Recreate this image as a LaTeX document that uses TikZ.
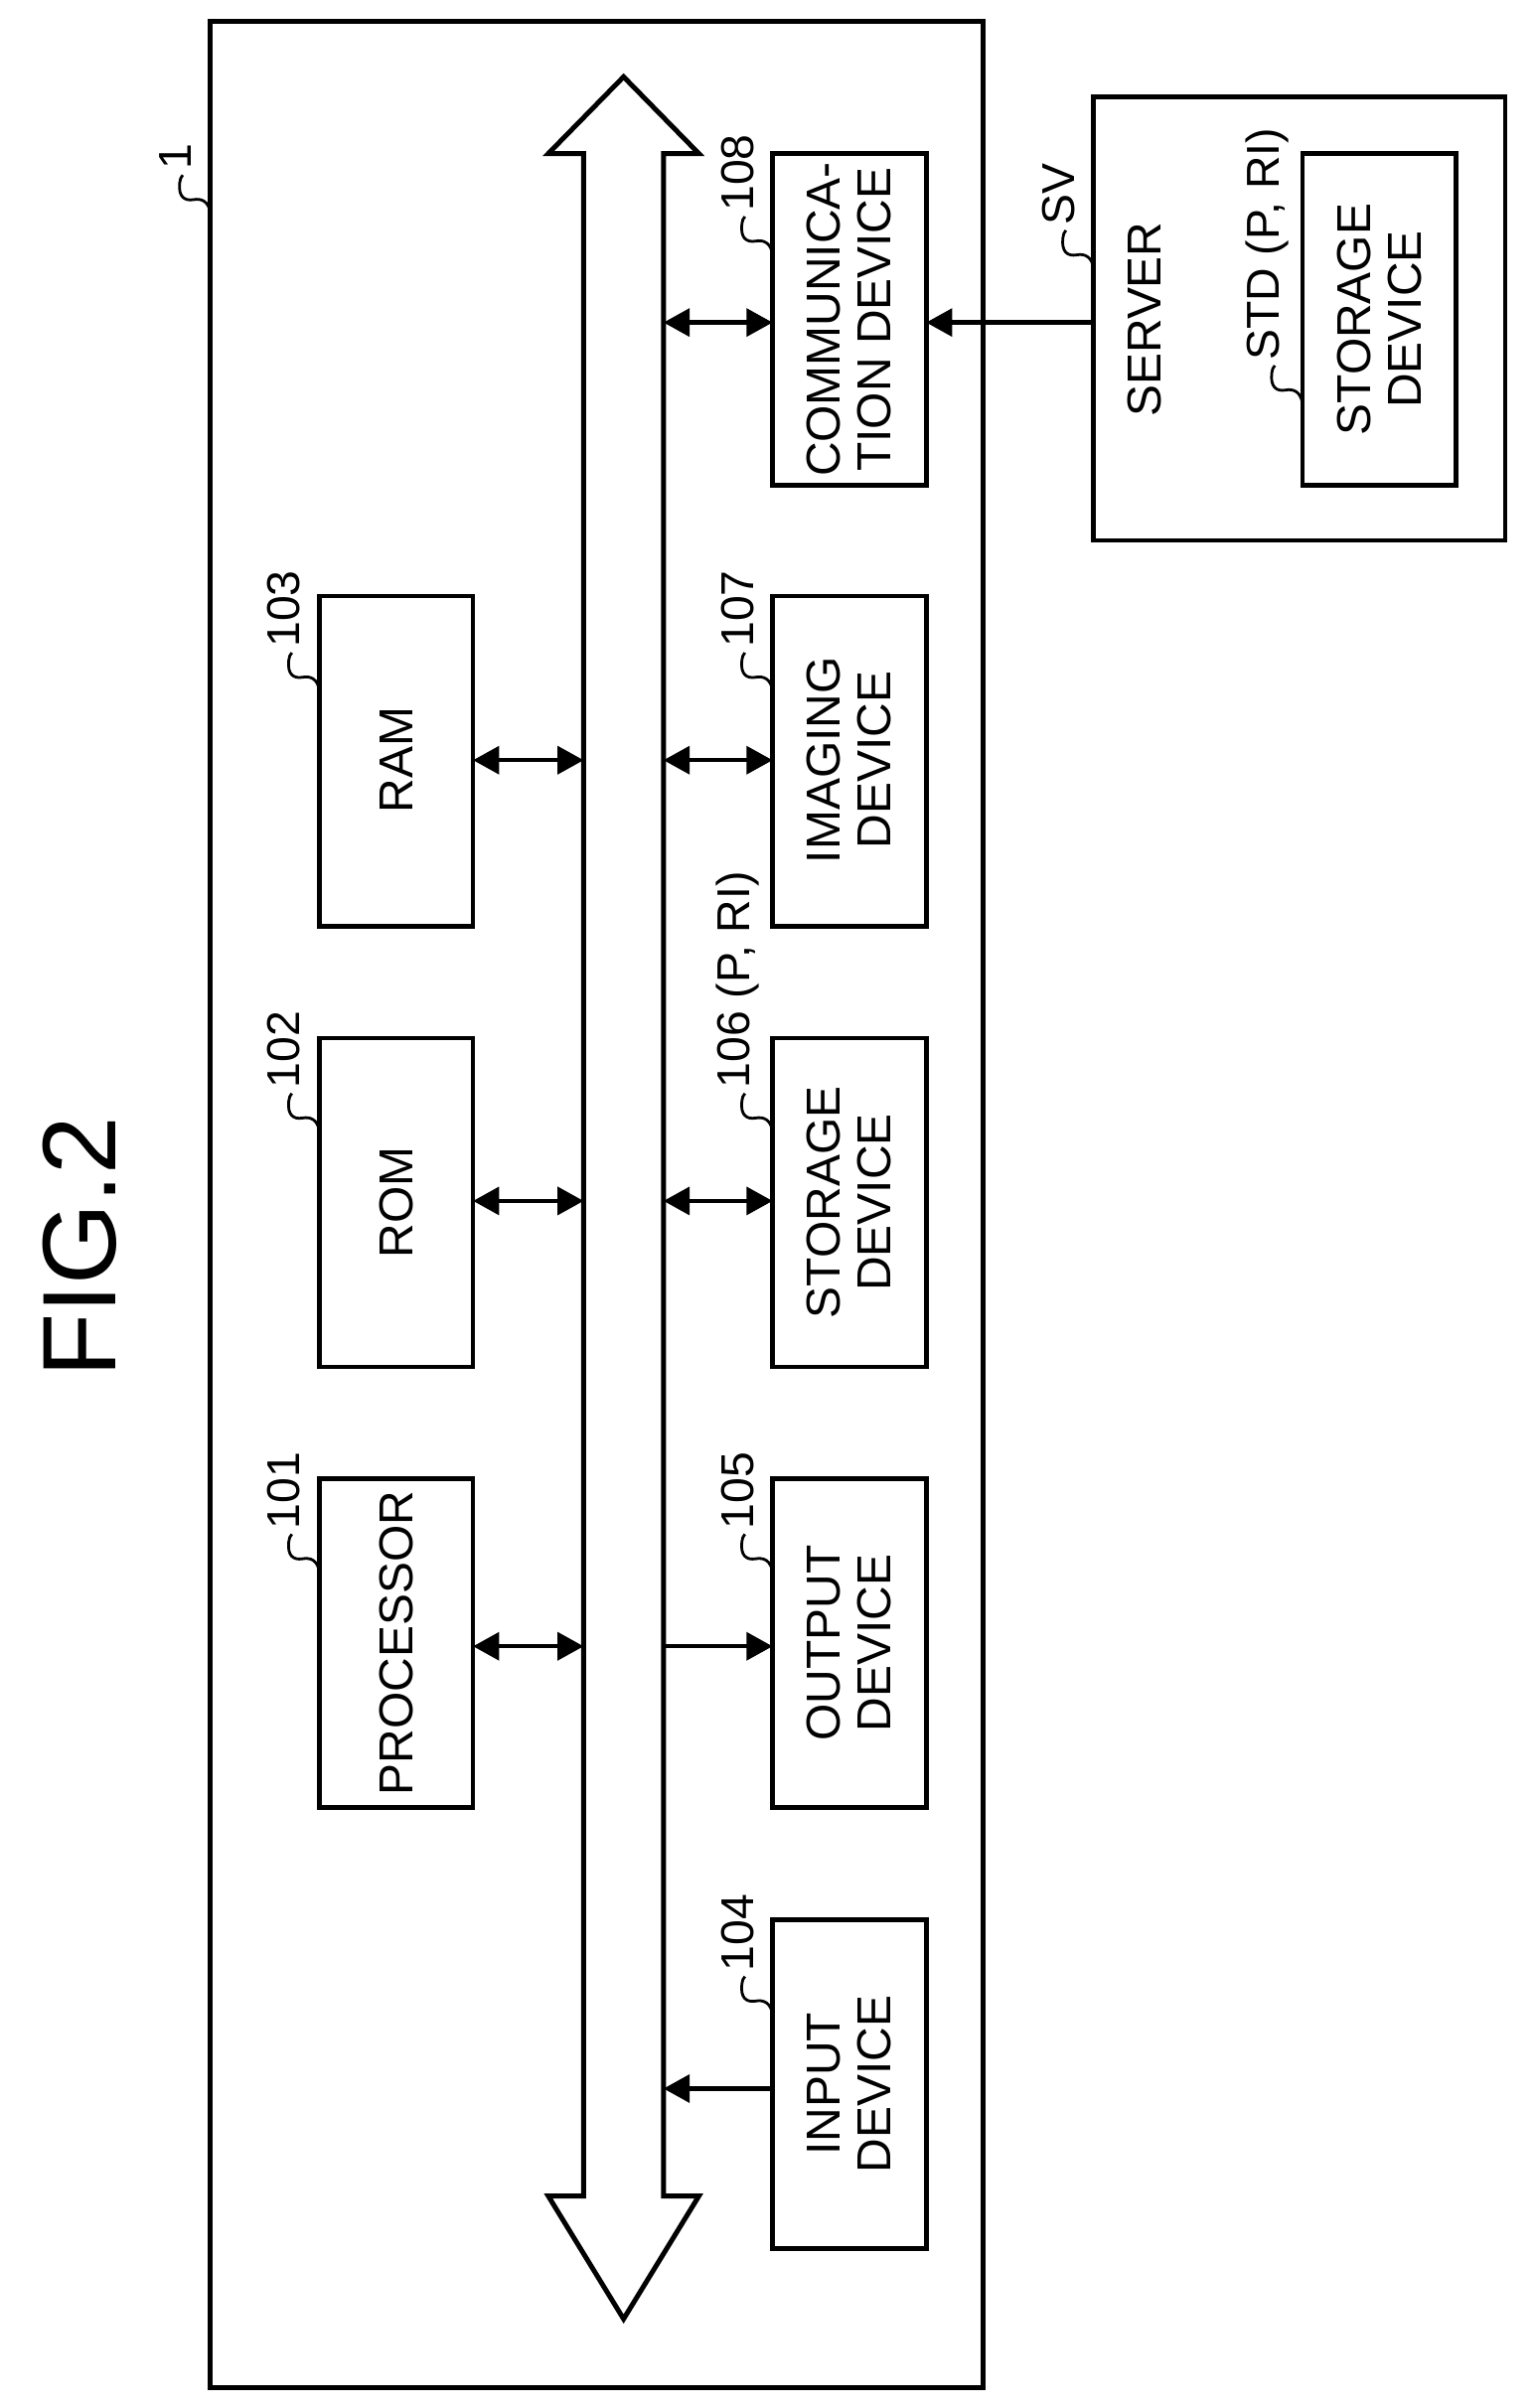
\documentclass[tikz,border=0pt]{standalone}
\usepackage{fontspec}
\setmainfont{Liberation Sans}
\usetikzlibrary{arrows.meta}
\begin{document}
\begin{tikzpicture}[x=0.5pt,y=-0.5pt,
  line width=1.4pt,
  box/.style={draw,line width=1.5pt,inner sep=0pt},
  txt/.style={rotate=90,font=\fontsize{15.5}{16.5}\selectfont,align=center},
  lab/.style={rotate=90,anchor=west,font=\fontsize{15}{16}\selectfont,inner sep=0pt},
  tip/.style={-{Triangle[length=8.5pt,width=9pt]}},
  dtip/.style={{Triangle[length=8.5pt,width=9pt]}-{Triangle[length=8.5pt,width=9pt]}}]
\useasboundingbox (0,0) rectangle (1000,1568);
\newcommand{\sq}[3]{%
  \draw[line width=0.9pt] (#1,#2) .. controls (#1-1,#2-8) and (#1-6,#2-10) .. (#1-11,#2-9) .. controls (#1-17,#2-8) and (#1-21,#2-11) .. (#1-20,#2-20) .. controls (#1-20,#2-22) and (#1-19,#2-24) .. (#1-18,#2-25);
  \node[lab] at (#1-23,#2-27) {#3};}
\node[txt,font=\fontsize{34}{36}\selectfont] (fig) at (52,812) {FIG.2};
\draw[line width=1.6pt] (137,14) rectangle (640,1555);
\coordinate (b1) at (137,139);
% bus
\draw[line width=1.6pt] (380,100) -- (357,100) -- (406,50) -- (455,100) -- (432,100) -- (432,1430) -- (455,1430) -- (406,1510) -- (357,1430) -- (380,1430) -- cycle;
% left boxes
\draw[box] (208,388) rectangle (308,603); \node[txt] (ram) at (258,495) {RAM};
\draw[box] (208,676) rectangle (308,890); \node[txt] (rom) at (258,783) {ROM};
\draw[box] (208,963) rectangle (308,1177); \node[txt] (proc) at (258,1070) {PROCESSOR};
% right boxes
\draw[box] (503,100) rectangle (603,316); \node[txt] (comm) at (553,208) {COMMUNICA-\\TION DEVICE};
\draw[box] (503,388) rectangle (603,603); \node[txt] (img) at (553,495) {IMAGING\\DEVICE};
\draw[box] (503,676) rectangle (603,890); \node[txt] (sto) at (553,783) {STORAGE\\DEVICE};
\draw[box] (503,963) rectangle (603,1177); \node[txt] (out) at (553,1070) {OUTPUT\\DEVICE};
\draw[box] (503,1250) rectangle (603,1464); \node[txt] (inp) at (553,1357) {INPUT\\DEVICE};
% server
\draw[box] (712,63) rectangle (980,352); \node[txt] (srv) at (745,208) {SERVER};
\draw[box] (848,100) rectangle (948,316); \node[txt] (std) at (898,208) {STORAGE\\DEVICE};
% connectors
\draw[dtip] (308,495) -- (380,495);
\draw[dtip] (308,782) -- (380,782);
\draw[dtip] (308,1072) -- (380,1072);
\draw[dtip] (432,210) -- (503,210);
\draw[dtip] (432,495) -- (503,495);
\draw[dtip] (432,782) -- (503,782);
\draw[tip] (432,1072) -- (503,1072);
\draw[tip] (503,1360) -- (432,1360);
\draw[tip] (712,210) -- (603,210);
% labels
\sq{137}{139}{1}
\sq{208}{450}{103}
\sq{208}{737}{102}
\sq{208}{1024}{101}
\sq{503}{166}{108}
\sq{503}{450}{107}
\sq{503}{737}{106 (P, RI)}
\sq{503}{1024}{105}
\sq{503}{1312}{104}
\sq{712}{175}{SV}
\sq{848}{263}{STD (P, RI)}
\end{tikzpicture}
\end{document}
